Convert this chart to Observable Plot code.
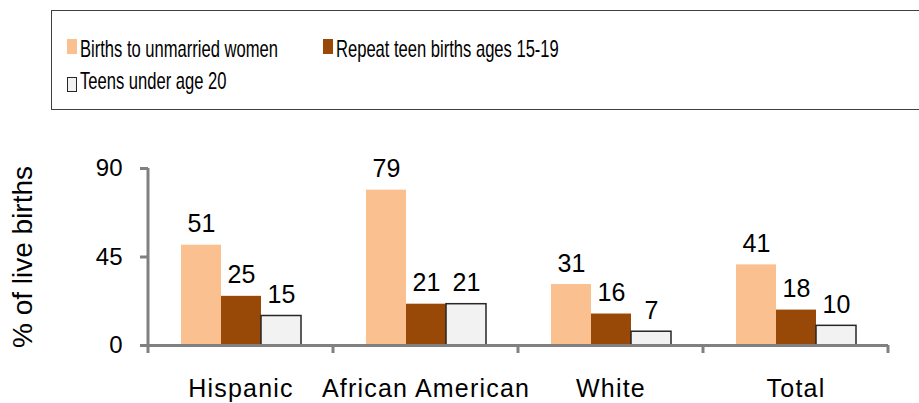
<!DOCTYPE html>
<html>
<head>
<meta charset="utf-8">
<script src="https://cdn.jsdelivr.net/npm/d3@7"></script>
<script src="https://cdn.jsdelivr.net/npm/@observablehq/plot@0.6"></script>
<style>
  html, body { margin: 0; padding: 0; background: #fff; overflow: hidden; }
  #wrap { position: relative; width: 919px; overflow: hidden; }
  #legend { position: relative; height: 120px; overflow: hidden; }
  #legend .box {
    position: absolute; left: 51px; top: 10px; width: 1000px; height: 100px;
    border: 1.5px solid #404040; box-sizing: border-box;
  }
  #legend .item {
    position: absolute; display: flex; align-items: flex-start;
    font-family: "Liberation Sans", Arial, sans-serif;
    font-size: 24px; line-height: 24px; color: #000; white-space: nowrap;
  }
  #legend .item span { display: inline-block; transform: scaleX(0.69); transform-origin: 0 0; }
  #legend .sw { width: 10px; height: 15px; margin-right: 3px; box-sizing: border-box; flex: none; }
  #chart svg { display: block; }
</style>
</head>
<body>
<div id="wrap">
  <div id="legend"><div class="box"></div></div>
  <div id="chart"></div>
</div>
<script>
// Share of live births by race/ethnicity (%)
const groups = ["Hispanic", "African American", "White", "Total"];
const series = ["Births to unmarried women", "Repeat teen births ages 15-19", "Teens under age 20"];
const unmarried = [51, 79, 31, 41];
const repeatTeen = [25, 21, 16, 18];
const teensUnder20 = [15, 21, 7, 10];
const yTicks = [0, 45, 90];

const colors = ["#FAC090", "#984807", "#F2F2F2"];
const outline = "#262626";
const axisGrey = "#808080";

// Legend: two rows inside a framed box
const legendPlaces = [
  {left: 67, top: 37, swTop: 2},
  {left: 323, top: 37, swTop: 2},
  {left: 67, top: 69, swTop: 8}
];
const legend = d3.select("#legend");
series.forEach((name, i) => {
  const p = legendPlaces[i];
  const item = legend.append("div").attr("class", "item")
    .style("left", p.left + "px").style("top", p.top + "px");
  item.append("div").attr("class", "sw")
    .style("margin-top", p.swTop + "px")
    .style("background", colors[i])
    .style("border", i === 2 ? `1.5px solid ${outline}` : "none");
  item.append("span").text(name);
});

const valuesBySeries = [unmarried, repeatTeen, teensUnder20];
const rows = groups.flatMap((g, gi) =>
  series.map((s, si) => ({group: g, series: s, value: valuesBySeries[si][gi]}))
);

const chart = Plot.plot({
  width: 919,
  height: 283,
  marginTop: 48,
  marginBottom: 58,
  marginLeft: 148,
  marginRight: 31,
  style: {fontFamily: "'Liberation Sans', Arial, sans-serif", fontSize: "24px", color: "#000", background: "#fff"},
  fx: {domain: groups, padding: 0, label: null},
  x: {domain: series, paddingInner: 0, paddingOuter: 0.8125, axis: null},
  y: {domain: [0, 90], axis: null},
  color: {domain: series, range: colors},
  marks: [
    Plot.barY(rows, {fx: "group", x: "series", y: "value", fill: "series", inset: 0}),
    Plot.barY(rows, {
      filter: d => d.series === series[2],
      fx: "group", x: "series", y: "value",
      fill: "none", stroke: outline, strokeWidth: 1.5, inset: 0
    }),
    Plot.ruleY([0], {stroke: axisGrey, strokeWidth: 3}),
    Plot.text(rows, {
      fx: "group", x: "series", y: "value",
      text: d => String(d.value),
      lineAnchor: "bottom", dy: -13, fontSize: 25, fill: "#000"
    }),
    Plot.axisY({
      ticks: yTicks, tickSize: 8, tickPadding: 18,
      stroke: axisGrey, strokeWidth: 3, fill: "#000", fontSize: 24, label: null
    }),
    Plot.axisY({
      ticks: [], label: "% of live births", labelAnchor: "center",
      labelOffset: 136, labelArrow: "none", fontSize: 28, fill: "#000"
    }),
    Plot.axisFx({anchor: "bottom", tickSize: 0, tickPadding: 34, fontSize: 25, fill: "#000", label: null})
  ]
});

// Axis line on the left and tick marks at the group boundaries
const fx = chart.scale("fx");
const y = chart.scale("y");
const edges = groups.map(g => fx.apply(g));
edges.push(fx.apply(groups[groups.length - 1]) + fx.bandwidth);
const y0 = y.apply(0);
const yTop = y.apply(d3.max(yTicks));
const g = d3.select(chart).append("g")
  .attr("stroke", axisGrey).attr("stroke-width", 3);
g.append("line")
  .attr("x1", edges[0]).attr("x2", edges[0])
  .attr("y1", yTop).attr("y2", y0 + 8);
g.selectAll("line.edge").data(edges.slice(1)).join("line")
  .attr("class", "edge")
  .attr("x1", d => d).attr("x2", d => d)
  .attr("y1", y0).attr("y2", y0 + 8);

d3.select(chart).selectAll("[aria-label='fx-axis tick label'] text")
  .style("letter-spacing", "1.2px");

document.getElementById("chart").appendChild(chart);
</script>
</body>
</html>
